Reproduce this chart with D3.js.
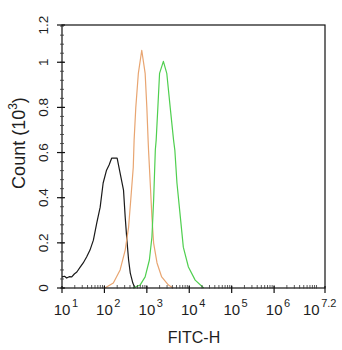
<!DOCTYPE html>
<html>
<head>
<meta charset="utf-8">
<script src="https://cdn.jsdelivr.net/npm/d3@7"></script>
<style>
  body { margin: 0; background: #fff; }
  text { font-family: Arial, "Liberation Sans", sans-serif; fill: #1e1e1e; }
</style>
</head>
<body>
<svg id="chart" width="342" height="350"></svg>
<script>
// Histogram channels are given as log10(FITC-H); counts are in thousands.
const controlLog   = [1.00, 1.06, 1.11, 1.17, 1.23, 1.29, 1.35, 1.42, 1.50, 1.58, 1.66, 1.74, 1.82, 1.90, 1.97, 2.05, 2.11, 2.17, 2.30, 2.37, 2.45, 2.49, 2.53, 2.57, 2.61, 2.67, 2.72];
const controlCount = [0.049, 0.052, 0.044, 0.050, 0.049, 0.062, 0.071, 0.090, 0.111, 0.137, 0.168, 0.212, 0.288, 0.358, 0.465, 0.522, 0.545, 0.575, 0.575, 0.509, 0.434, 0.314, 0.212, 0.124, 0.066, 0.022, 0.0];

const orangeLog    = [2.01, 2.21, 2.37, 2.49, 2.57, 2.62, 2.68, 2.70, 2.74, 2.80, 2.88, 2.96, 3.00, 3.03, 3.04, 3.08, 3.12, 3.16, 3.24, 3.35, 3.51, 3.62];
const orangeCount  = [0.0, 0.022, 0.080, 0.168, 0.270, 0.389, 0.535, 0.655, 0.801, 0.951, 1.053, 0.951, 0.801, 0.655, 0.611, 0.465, 0.314, 0.199, 0.111, 0.049, 0.013, 0.0];

const greenLog     = [2.67, 2.84, 2.96, 3.06, 3.12, 3.16, 3.20, 3.22, 3.26, 3.30, 3.39, 3.47, 3.55, 3.63, 3.66, 3.71, 3.79, 3.86, 3.98, 4.14, 4.34];
const greenCount   = [0.0, 0.013, 0.049, 0.124, 0.226, 0.389, 0.611, 0.655, 0.801, 0.951, 1.004, 0.951, 0.801, 0.655, 0.611, 0.465, 0.314, 0.181, 0.093, 0.035, 0.0];

const xTickExponents = [1, 2, 3, 4, 5, 6, 7.2];
const xTickLabels    = ["1", "2", "3", "4", "5", "6", "7.2"];
const yTickValues    = [0, 0.2, 0.4, 0.6, 0.8, 1, 1.165];
const yTickLabels    = ["0", "0.2", "0.4", "0.6", "0.8", "1", "1.2"];
const yAxisMax = 1.165;

const series = [
  { log: controlLog, count: controlCount, color: "#1a1a1a" },
  { log: orangeLog,  count: orangeCount,  color: "#e8a571" },
  { log: greenLog,   count: greenCount,   color: "#4fcf4f" }
];

const L = 62, R = 325, T = 25, B = 288;
const svg = d3.select("#chart");

const x = d3.scaleLog().domain([10, Math.pow(10, 7.2)]).range([L, R]);
const y = d3.scaleLinear().domain([0, yAxisMax]).range([B, T]);

// histogram outlines
const line = d3.line()
  .x(d => x(Math.pow(10, d[0])))
  .y(d => y(d[1]));

series.forEach(s => {
  svg.append("path")
    .datum(s.log.map((v, i) => [v, s.count[i]]))
    .attr("d", line)
    .attr("fill", "none")
    .attr("stroke", s.color)
    .attr("stroke-width", 1.2)
    .attr("stroke-linejoin", "round");
});

// frame
svg.append("rect")
  .attr("x", L).attr("y", T)
  .attr("width", R - L).attr("height", B - T)
  .attr("fill", "none").attr("stroke", "#111").attr("stroke-width", 1.2);

// x minor ticks (log decades)
const xMinor = [];
for (let k = 1; k <= 6; k++) for (let m = 2; m <= 10; m++) {
  const v = m * Math.pow(10, k);
  if (v < Math.pow(10, 7.2)) xMinor.push(v);
}
svg.append("g").selectAll("line").data(xMinor).join("line")
  .attr("x1", d => x(d)).attr("x2", d => x(d))
  .attr("y1", B - 3).attr("y2", B + 0.5)
  .attr("stroke", "#333").attr("stroke-width", 0.8);

// x major ticks and labels
const lastX = xTickExponents.length - 1;
const xMajor = svg.append("g").selectAll("g").data(xTickExponents).join("g")
  .attr("transform", d => `translate(${x(Math.pow(10, d))},0)`);
xMajor.append("line")
  .attr("y1", B - 2).attr("y2", B + 5)
  .attr("stroke", "#111").attr("stroke-width", 1.2);
xMajor.append("text")
  .attr("x", (d, i) => i === lastX ? -22 : -8.3)
  .attr("y", 315)
  .attr("font-size", 15)
  .each(function(d, i) {
    const t = d3.select(this);
    t.append("tspan").text("10");
    t.append("tspan").attr("dx", 1.5).attr("dy", -8).attr("font-size", 11).text(xTickLabels[i]);
  });

// y minor ticks
const yMinor = d3.range(0, yAxisMax, 0.04);
svg.append("g").selectAll("line").data(yMinor).join("line")
  .attr("x1", L - 2).attr("x2", L + 2)
  .attr("y1", d => y(d)).attr("y2", d => y(d))
  .attr("stroke", "#333").attr("stroke-width", 0.8);

// y major ticks and labels
const yMajor = svg.append("g").selectAll("g").data(yTickValues).join("g")
  .attr("transform", d => `translate(0,${y(d)})`);
yMajor.append("line")
  .attr("x1", L - 5).attr("x2", L + 3)
  .attr("stroke", "#111").attr("stroke-width", 1.2);
yMajor.append("text")
  .attr("transform", "translate(48,0) rotate(-90)")
  .attr("text-anchor", "middle")
  .attr("font-size", 13.5)
  .text((d, i) => yTickLabels[i]);

// axis titles
svg.append("text")
  .attr("x", 194).attr("y", 343)
  .attr("text-anchor", "middle")
  .attr("font-size", 16)
  .text("FITC-H");

const yTitle = svg.append("text")
  .attr("transform", "translate(25,143) rotate(-90)")
  .attr("text-anchor", "middle")
  .attr("font-size", 18);
yTitle.append("tspan").text("Count (10");
yTitle.append("tspan").attr("dy", -8).attr("font-size", 12).text("3");
yTitle.append("tspan").attr("dy", 8).text(")");
</script>
</body>
</html>
